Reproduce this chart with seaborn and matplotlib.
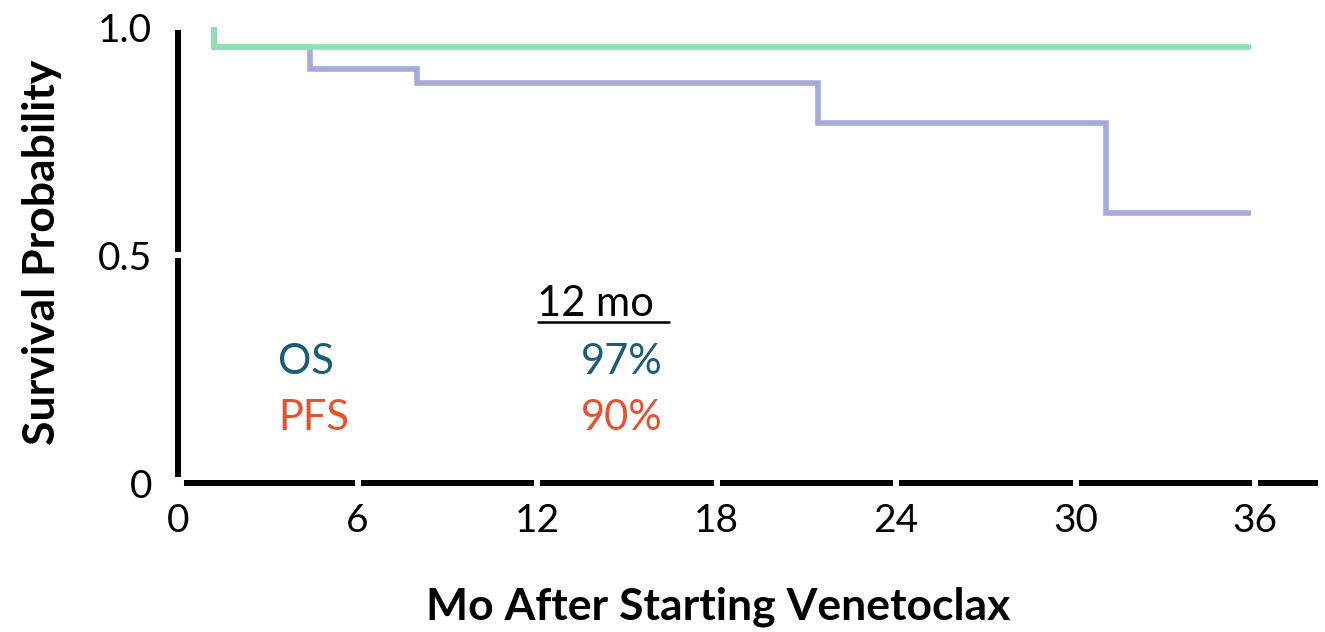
import numpy as np
import pandas as pd
import matplotlib
matplotlib.use("Agg")
import matplotlib.pyplot as plt
import seaborn as sns

# ---- data ----
os_months = [1.2, 1.2, 35.85]
os_surv = [1.0, 0.956, 0.956]
pfs_months = [1.2, 1.2, 4.4, 8.0, 21.4, 31.0, 35.85]
pfs_surv = [1.0, 0.956, 0.908, 0.877, 0.789, 0.592, 0.592]

x_ticks = [0, 6, 12, 18, 24, 30, 36]
y_ticks = [0, 0.5, 1.0]
y_ticklabels = ["0", "0.5", "1.0"]

table_header = "12 mo"
table_rows = ["OS", "PFS"]
table_values = ["97%", "90%"]

curve_colors = {"OS": "#8fdfb4", "PFS": "#a8a8da"}
text_colors = ["#1a5d77", "#e7522b"]

df = pd.concat([
    pd.DataFrame({"month": pfs_months, "surv": pfs_surv, "curve": "PFS"}),
    pd.DataFrame({"month": os_months, "surv": os_surv, "curve": "OS"}),
], ignore_index=True)

sns.set_style("white")
plt.rcParams["font.family"] = ["Lato", "DejaVu Sans"]
plt.rcParams["text.color"] = "black"
plt.rcParams["axes.labelcolor"] = "black"

fig = plt.figure(figsize=(13.25, 6.32), dpi=100)
ax = fig.add_axes([178 / 1325, 149 / 632, 1140 / 1325, 456 / 632])

sns.lineplot(data=df, x="month", y="surv", hue="curve", hue_order=["PFS", "OS"],
             palette=curve_colors, estimator=None, sort=False,
             drawstyle="steps-post", linewidth=4.0, legend=False, ax=ax)
for ln in ax.lines:
    ln.set_solid_joinstyle("miter")
    ln.set_solid_capstyle("butt")
    ln.set_clip_on(False)

ax.set_xlim(0, 38.1)
ax.set_ylim(0, 1.0)
sns.despine(ax=ax)
for side in ["left", "bottom"]:
    ax.spines[side].set_linewidth(4.3)
    ax.spines[side].set_color("black")
    ax.spines[side].set_capstyle("butt")

ax.set_xticks(x_ticks)
ax.set_xticklabels([str(t) for t in x_ticks])
ax.set_yticks(y_ticks)
ax.set_yticklabels(y_ticklabels)
ax.tick_params(axis="x", bottom=True)
ax.tick_params(axis="y", left=True)
ax.tick_params(axis="both", direction="inout", length=9, width=4.3, color="white",
               labelsize=28, labelcolor="black")
ax.tick_params(axis="x", pad=10)
ax.tick_params(axis="y", pad=14)
ax.xaxis.set_zorder(3)
ax.yaxis.set_zorder(3)

ax.set_xlabel("Mo After Starting Venetoclax", fontsize=32, fontweight="bold", color="black")
ax.xaxis.label.set_va("center")
ax.xaxis.set_label_coords((718 - 178) / 1140, (483 - 607) / 456)
ax.set_ylabel("Survival Probability", fontsize=32, fontweight="bold", color="black")
ax.yaxis.label.set_va("center")
ax.yaxis.set_label_coords((42 - 178) / 1140, (483 - 252) / 456)

# in-plot table
ax.text(12.0, 0.366, table_header, fontsize=30, color="black", ha="left", va="baseline")
ax.hlines(0.352, 12.0, 16.45, color="black", linewidth=1.8)
row_y = [0.239, 0.116]
for lab, val, col, yy in zip(table_rows, table_values, text_colors, row_y):
    ax.text(3.35, yy, lab, fontsize=30, color=col, ha="left", va="baseline")
    ax.text(16.2, yy, val, fontsize=30, color=col, ha="right", va="baseline")

fig.savefig("out.png", dpi=100)
